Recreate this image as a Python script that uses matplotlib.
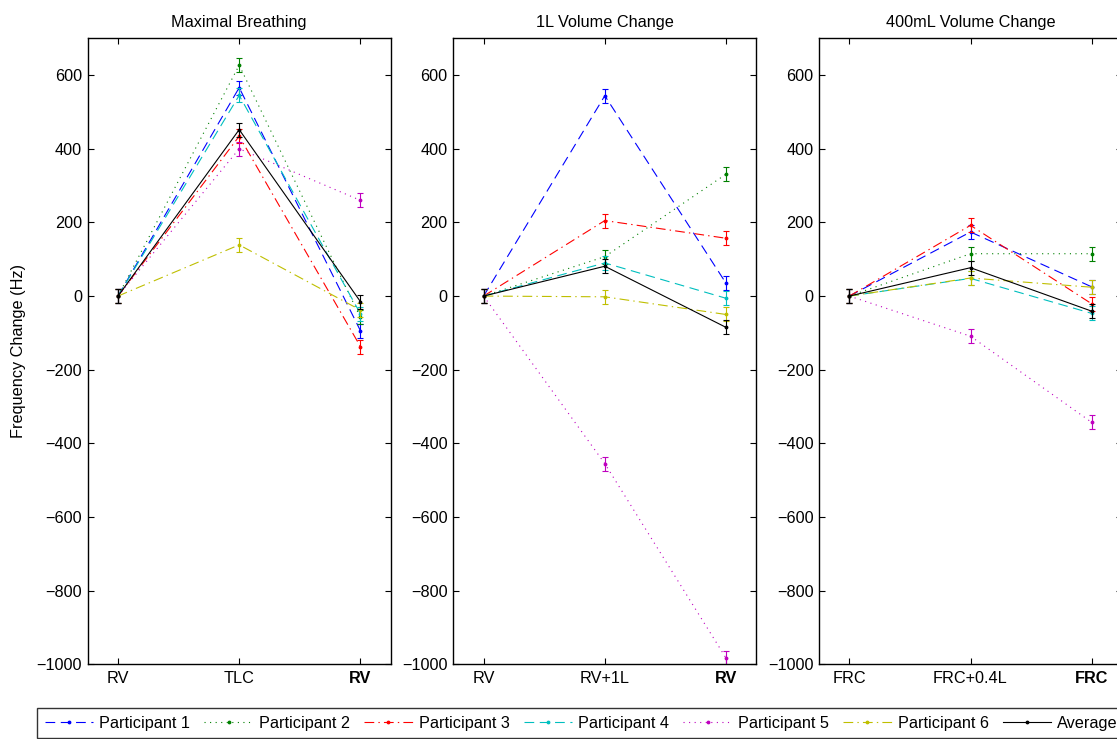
import numpy as np
import matplotlib
matplotlib.use("Agg")
import matplotlib.pyplot as plt

plt.rcParams["font.family"] = ["Liberation Sans", "DejaVu Sans"]
plt.rcParams["font.size"] = 11.7
plt.rcParams["lines.scale_dashes"] = False

# Panels and their x tick labels
titles = ["Maximal Breathing", "1L Volume Change", "400mL Volume Change"]
xlabels = [["RV", "TLC", "RV"], ["RV", "RV+1L", "RV"], ["FRC", "FRC+0.4L", "FRC"]]

series_names = ["Participant 1", "Participant 2", "Participant 3",
                "Participant 4", "Participant 5", "Participant 6", "Average"]

# Frequency change (Hz) per panel, one row per series
p1 = [[0, 566, -94], [0, 544, 35], [0, 174, 25]]
p2 = [[0, 627, -58], [0, 107, 331], [0, 115, 115]]
p3 = [[0, 434, -137], [0, 205, 157], [0, 192, -21]]
p4 = [[0, 545, -48], [0, 90, -6], [0, 48, -47]]
p5 = [[0, 400, 260], [0, -455, -983], [0, -109, -343]]
p6 = [[0, 139, -38], [0, -2, -50], [0, 49, 24]]
avg = [[0, 452, -15], [0, 81, -85], [0, 77, -41]]
all_series = [p1, p2, p3, p4, p5, p6, avg]

# error bar half-widths (Hz)
err = [19, 19, 19]

colors = [(0, 0, 1), (0, 0.5, 0), (1, 0, 0), (0, 0.75, 0.75),
          (0.75, 0, 0.75), (0.75, 0.75, 0), (0, 0, 0)]
dashes = [(0, (7, 4)), (0, (0.8, 3.2)), (0, (7, 3, 1, 3)), (0, (7, 4)),
          (0, (0.8, 3.2)), (0, (7, 3, 1, 3)), "-"]

W, H = 1117, 739
fig = plt.figure(figsize=(W / 100, H / 100), dpi=100)

lefts = [87.7, 453.3, 819.0]
ax_w, ax_top, ax_bot = 303.0, 38.3, 664.3
x = np.array([1, 2, 3])

handles = []
for k in range(3):
    ax = fig.add_axes([lefts[k] / W, 1 - ax_bot / H, ax_w / W, (ax_bot - ax_top) / H])
    for s in range(7):
        ys = np.array(all_series[s][k], dtype=float)
        ax.errorbar(x, ys, yerr=err[k], color=colors[s], ecolor=colors[s],
                    elinewidth=0.8, capsize=2.5, capthick=0.8, linewidth=0)
        ln, = ax.plot(x, ys, color=colors[s], linestyle=dashes[s], linewidth=0.8,
                      marker=".", markersize=3.5, label=series_names[s])
        if k == 0:
            handles.append(ln)
    ax.set_xlim(0.75, 3.25)
    ax.set_ylim(-1000, 700)
    ax.set_xticks(x)
    ax.set_xticklabels(xlabels[k])
    ax.get_xticklabels()[2].set_fontweight("bold")
    ax.set_yticks(np.arange(-1000, 601, 200))
    ax.tick_params(direction="in", top=True, right=True, length=4, width=0.8,
                   labelsize=11.7)
    ax.tick_params(axis="x", pad=5)
    ax.tick_params(axis="y", pad=4)
    for sp in ax.spines.values():
        sp.set_linewidth(1.0)
    ax.set_title(titles[k], fontsize=11.7, pad=8)
    if k == 0:
        ax.set_ylabel("Frequency Change (Hz)", fontsize=11.7)
        ax.yaxis.set_label_coords(-0.205, 0.5)

leg = fig.legend(handles=handles, loc="lower left", ncol=7, numpoints=1,
                 bbox_to_anchor=(37.3 / W, 1.0 / H),
                 fontsize=11.7, frameon=True, fancybox=False, handlelength=3.0,
                 handletextpad=0.37, columnspacing=0.86, borderaxespad=0,
                 borderpad=0.45)
leg.get_frame().set_edgecolor("black")
leg.get_frame().set_linewidth(1.0)

fig.savefig("out.png", dpi=100)
